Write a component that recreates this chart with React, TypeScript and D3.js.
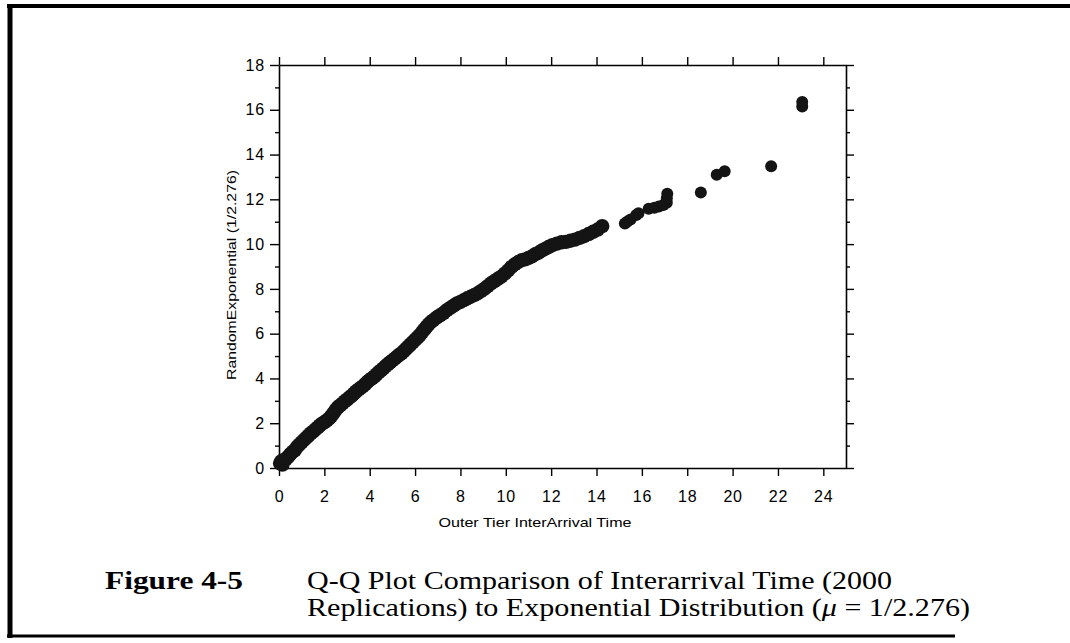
import React, { useEffect, useRef } from "react";
import * as d3 from "d3";

// quantile pairs: [outer tier interarrival, random exponential]
const bodyPoints: [number, number][] = [
  [0.05, 0.2], [0.1, 0.3], [0.15, 0.15], [0.2, 0.35], [0.3, 0.4], [0.4, 0.5],
  [0.5, 0.62], [0.6, 0.72], [0.7, 0.8], [0.8, 0.95], [0.9, 1.05], [1.0, 1.15],
  [1.1, 1.25], [1.2, 1.35], [1.3, 1.45], [1.4, 1.55], [1.5, 1.62], [1.6, 1.72],
  [1.7, 1.8], [1.8, 1.9], [1.9, 1.98], [2.0, 2.05], [2.1, 2.12], [2.2, 2.2],
  [2.3, 2.32], [2.4, 2.45], [2.5, 2.6], [2.6, 2.72], [2.7, 2.8], [2.8, 2.88],
  [2.9, 2.98], [3.0, 3.05], [3.1, 3.15], [3.2, 3.22], [3.3, 3.32], [3.4, 3.42],
  [3.5, 3.5], [3.6, 3.58], [3.7, 3.65], [3.8, 3.75], [3.9, 3.85], [4.0, 3.93],
  [4.1, 4.0], [4.2, 4.08], [4.3, 4.18], [4.4, 4.28], [4.5, 4.36], [4.6, 4.45],
  [4.7, 4.55], [4.8, 4.64], [4.9, 4.72], [5.0, 4.8], [5.1, 4.88], [5.2, 4.97],
  [5.3, 5.05], [5.4, 5.12], [5.5, 5.22], [5.6, 5.32], [5.7, 5.42], [5.8, 5.52],
  [5.9, 5.62], [6.0, 5.72], [6.1, 5.82], [6.2, 5.92], [6.3, 6.05], [6.4, 6.18],
  [6.5, 6.3], [6.6, 6.42], [6.7, 6.52], [6.8, 6.6], [6.95, 6.72], [7.1, 6.82],
  [7.25, 6.92], [7.4, 7.05], [7.55, 7.15], [7.7, 7.25], [7.85, 7.35], [8.0, 7.42],
  [8.15, 7.5], [8.3, 7.58], [8.45, 7.65], [8.6, 7.72], [8.75, 7.8], [8.9, 7.9],
  [9.05, 8.0], [9.2, 8.12], [9.35, 8.25], [9.5, 8.35], [9.65, 8.45], [9.8, 8.55],
  [9.95, 8.68], [10.1, 8.82], [10.25, 8.98], [10.4, 9.1], [10.55, 9.2], [10.7, 9.28],
  [10.85, 9.32], [11.0, 9.38], [11.15, 9.45], [11.3, 9.55], [11.45, 9.62], [11.6, 9.72],
  [11.75, 9.8], [11.9, 9.88], [12.05, 9.95], [12.25, 10.02], [12.45, 10.08], [12.65, 10.1],
  [12.85, 10.15], [13.05, 10.2], [13.25, 10.28], [13.45, 10.35], [13.65, 10.45], [13.85, 10.55],
  [14.05, 10.65], [14.25, 10.8],
];

const tailPoints: [number, number][] = [
  [15.25, 10.92], [15.35, 11.0], [15.5, 11.1], [15.75, 11.3], [15.85, 11.38],
  [16.3, 11.58], [16.55, 11.62], [16.75, 11.68], [16.95, 11.75], [17.1, 11.85],
  [17.1, 12.05], [17.12, 12.25], [18.6, 12.3], [19.3, 13.1], [19.65, 13.25],
  [21.7, 13.48], [23.07, 16.15], [23.07, 16.35],
];

const xMajorTicks = [0, 2, 4, 6, 8, 10, 12, 14, 16, 18, 20, 22, 24];
const yMajorTicks = [0, 2, 4, 6, 8, 10, 12, 14, 16, 18];
const yMinorTicks = [1, 3, 5, 7, 9, 11, 13, 15, 17];

const xTitle = "Outer Tier InterArrival  Time";
const yTitle = "RandomExponential (1/2.276)";

const App: React.FC = () => {
  const ref = useRef<SVGSVGElement>(null);

  useEffect(() => {
    const svg = d3.select(ref.current);
    svg.selectAll("*").remove();

    const left = 279, right = 846, top = 65, bottom = 468;
    const x = d3.scaleLinear().domain([0, 25]).range([left, right]);
    const y = d3.scaleLinear().domain([0, 18]).range([bottom, top]);

    // page frame (scanned figure box)
    const frame = svg.append("g").attr("stroke", "#000").attr("fill", "none");
    frame.append("line").attr("x1", 7).attr("x2", 1070).attr("y1", 6).attr("y2", 6).attr("stroke-width", 4);
    frame.append("line").attr("x1", 10).attr("x2", 10).attr("y1", 4).attr("y2", 638).attr("stroke-width", 5);
    frame.append("line").attr("x1", 7).attr("x2", 955).attr("y1", 636).attr("y2", 636).attr("stroke-width", 3);

    const axisFont = "'Liberation Sans', Arial, sans-serif";

    const styleAxis = (g: d3.Selection<SVGGElement, unknown, null, undefined>) => {
      g.select(".domain").attr("stroke", "#000").attr("stroke-width", 1.6);
      g.selectAll(".tick line").attr("stroke", "#000").attr("stroke-width", 1.4);
      g.selectAll(".tick text")
        .attr("fill", "#000")
        .style("font-family", axisFont)
        .style("font-size", "16px")
        .style("letter-spacing", "0.8px");
    };

    // bottom
    svg.append("g")
      .attr("transform", `translate(0,${bottom})`)
      .call(d3.axisBottom(x).tickValues(xMajorTicks).tickSizeInner(8).tickSizeOuter(0).tickPadding(15))
      .call(styleAxis);

    // top (ticks only)
    svg.append("g")
      .attr("transform", `translate(0,${top})`)
      .call(d3.axisTop(x).tickValues(xMajorTicks).tickSizeInner(8).tickSizeOuter(0).tickFormat(() => ""))
      .call(styleAxis);

    // left
    svg.append("g")
      .attr("transform", `translate(${left},0)`)
      .call(d3.axisLeft(y).tickValues(yMajorTicks).tickSizeInner(9).tickSizeOuter(0).tickPadding(5))
      .call(styleAxis);
    svg.append("g")
      .attr("transform", `translate(${left},0)`)
      .call(d3.axisLeft(y).tickValues(yMinorTicks).tickSizeInner(4).tickSizeOuter(0).tickFormat(() => ""))
      .call(styleAxis)
      .select(".domain").remove();

    // right
    svg.append("g")
      .attr("transform", `translate(${right},0)`)
      .call(d3.axisRight(y).tickValues(yMajorTicks).tickSizeInner(8).tickSizeOuter(0).tickFormat(() => ""))
      .call(styleAxis);
    svg.append("g")
      .attr("transform", `translate(${right},0)`)
      .call(d3.axisRight(y).tickValues(yMinorTicks).tickSizeInner(4).tickSizeOuter(0).tickFormat(() => ""))
      .call(styleAxis)
      .select(".domain").remove();

    // points
    const pts = svg.append("g").attr("fill", "#141414");
    pts.selectAll("circle.body")
      .data(bodyPoints)
      .enter()
      .append("circle")
      .attr("class", "body")
      .attr("cx", (d) => x(d[0]))
      .attr("cy", (d) => y(d[1]))
      .attr("r", 7.2);
    pts.selectAll("circle.tail")
      .data(tailPoints)
      .enter()
      .append("circle")
      .attr("class", "tail")
      .attr("cx", (d) => x(d[0]))
      .attr("cy", (d) => y(d[1]))
      .attr("r", 6);

    // axis titles
    svg.append("text")
      .attr("x", 535)
      .attr("y", 527)
      .attr("text-anchor", "middle")
      .attr("textLength", 193)
      .attr("lengthAdjust", "spacingAndGlyphs")
      .style("font-family", axisFont)
      .style("font-size", "13px")
      .text(xTitle);

    svg.append("text")
      .attr("transform", "translate(236,275) rotate(-90)")
      .attr("text-anchor", "middle")
      .attr("textLength", 210)
      .attr("lengthAdjust", "spacingAndGlyphs")
      .style("font-family", axisFont)
      .style("font-size", "13px")
      .text(yTitle);

    // caption
    const serif = "'Liberation Serif', 'Times New Roman', serif";
    svg.append("text")
      .attr("x", 105)
      .attr("y", 589)
      .attr("textLength", 138)
      .attr("lengthAdjust", "spacingAndGlyphs")
      .style("font-family", serif)
      .style("font-weight", "bold")
      .style("font-size", "26px")
      .text("Figure 4-5");
    svg.append("text")
      .attr("x", 307)
      .attr("y", 589)
      .attr("textLength", 585)
      .attr("lengthAdjust", "spacingAndGlyphs")
      .style("font-family", serif)
      .style("font-size", "26px")
      .text("Q-Q Plot Comparison of Interarrival Time (2000");
    const line2 = svg.append("text")
      .attr("x", 307)
      .attr("y", 616)
      .attr("textLength", 663)
      .attr("lengthAdjust", "spacingAndGlyphs")
      .style("font-family", serif)
      .style("font-size", "26px");
    line2.append("tspan").text("Replications) to Exponential Distribution (");
    line2.append("tspan").style("font-style", "italic").text("μ");
    line2.append("tspan").text(" = 1/2.276)");
  }, []);

  return (
    <svg
      ref={ref}
      width={1070}
      height={643}
      style={{ position: "absolute", left: 0, top: 0, background: "#fff" }}
    />
  );
};

export default App;
